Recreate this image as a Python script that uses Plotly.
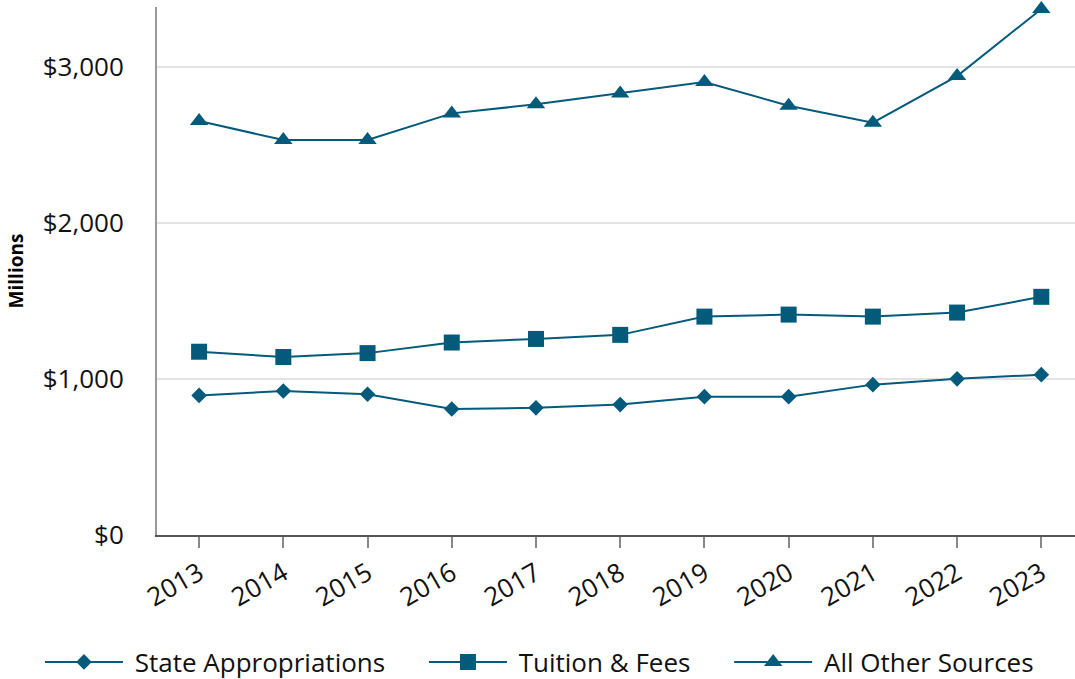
import plotly.graph_objects as go

years = ["2013", "2014", "2015", "2016", "2017", "2018", "2019", "2020", "2021", "2022", "2023"]
state_appropriations = [895, 923, 902, 808, 815, 836, 887, 887, 964, 1001, 1028]
tuition_fees = [1175, 1141, 1166, 1234, 1257, 1283, 1400, 1413, 1400, 1426, 1527]
all_other_sources = [2654, 2532, 2532, 2703, 2761, 2831, 2904, 2752, 2643, 2942, 3372]

COLOR = "#035a7b"
FONT = "Open Sans"
FS = 26
NB = "\u00a0"

fig = go.Figure()
series = [
    ("State Appropriations", state_appropriations, "diamond", 12, NB * 5),
    ("Tuition & Fees", tuition_fees, "square", 16, NB * 5),
    ("All Other Sources", all_other_sources, "triangle-up", 16, ""),
]
for name, vals, sym, sz, pad in series:
    fig.add_trace(go.Scatter(
        x=years, y=vals, name=NB + name + pad, mode="lines+markers",
        line=dict(color=COLOR, width=2),
        marker=dict(symbol=sym, size=sz, color=COLOR),
        cliponaxis=False,
    ))

fig.update_layout(
    width=1075, height=679,
    margin=dict(l=157, r=0, t=7, b=144, autoexpand=False),
    paper_bgcolor="white", plot_bgcolor="white",
    font=dict(family=FONT, size=FS, color="#111111"),
    showlegend=True,
    legend=dict(orientation="h", xref="paper", x=-0.1275, xanchor="left",
                yref="paper", y=-0.2405, yanchor="middle",
                font=dict(size=FS), itemwidth=78, traceorder="normal"),
    xaxis=dict(
        type="category", range=[-0.5, 10.4],
        showline=True, linecolor="#555555", linewidth=2,
        ticks="outside", ticklen=11, tickwidth=2, tickcolor="#888888",
        tickangle=-30, showgrid=False, tickfont=dict(size=FS),
    ),
    yaxis=dict(
        range=[0, 3385], tickvals=[0, 1000, 2000, 3000],
        ticktext=["$0", "$1,000", "$2,000", "$3,000"],
        showline=True, linecolor="#999999", linewidth=2,
        showgrid=True, gridcolor="#e3e3e3", gridwidth=2,
        zeroline=False, ticklabelstandoff=26,
        tickfont=dict(size=FS),
        title=dict(text="<b>Millions</b>", font=dict(size=19, color="#000000"), standoff=14),
    ),
)

fig.write_html("out.html", config={"displayModeBar": False},
               post_script="document.body.style.margin='0';document.body.style.overflow='hidden';")
